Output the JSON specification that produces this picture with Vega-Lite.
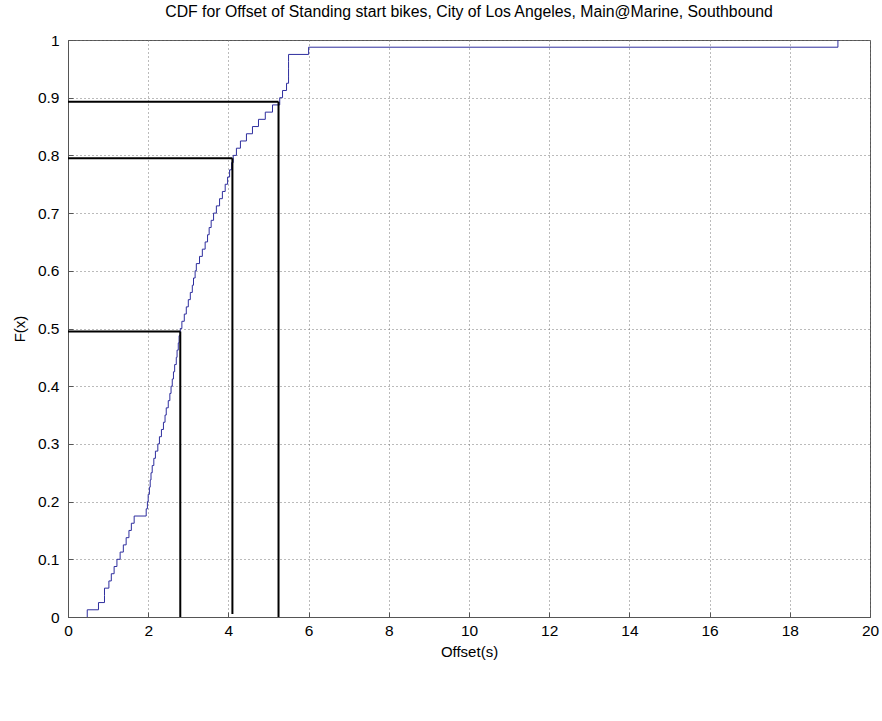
{
  "$schema": "https://vega.github.io/schema/vega-lite/v6.json",
  "width": 802,
  "height": 577,
  "autosize": {"type": "none"},
  "padding": {"left": 68, "top": 40, "right": 12, "bottom": 104},
  "background": "white",
  "title": {"text": "CDF for Offset of Standing start bikes, City of Los Angeles, Main@Marine, Southbound", "font": "Liberation Sans", "fontSize": 15.8, "fontWeight": "normal", "color": "black", "offset": 12},
  "config": {
    "view": {"stroke": "#555", "strokeWidth": 1},
    "axis": {"labelFont": "Liberation Sans", "titleFont": "Liberation Sans", "labelFontSize": 15.5, "titleFontSize": 15, "titleFontWeight": "normal", "labelColor": "black", "titleColor": "black", "domainColor": "#555", "tickColor": "#555", "gridColor": "#777", "gridDash": [1, 3], "gridOpacity": 1, "gridWidth": 1}
  },
  "datasets": {
    "cdf": [
      {"offset": 0.48, "F": 0},
      {"offset": 0.48, "F": 0.0125},
      {"offset": 0.76, "F": 0.025},
      {"offset": 0.91, "F": 0.0375},
      {"offset": 0.91, "F": 0.05},
      {"offset": 1.02, "F": 0.0625},
      {"offset": 1.08, "F": 0.075},
      {"offset": 1.15, "F": 0.0875},
      {"offset": 1.22, "F": 0.1},
      {"offset": 1.30, "F": 0.1125},
      {"offset": 1.38, "F": 0.125},
      {"offset": 1.45, "F": 0.1375},
      {"offset": 1.52, "F": 0.15},
      {"offset": 1.58, "F": 0.1625},
      {"offset": 1.65, "F": 0.175},
      {"offset": 1.95, "F": 0.1875},
      {"offset": 1.98, "F": 0.2},
      {"offset": 2.00, "F": 0.2125},
      {"offset": 2.03, "F": 0.225},
      {"offset": 2.05, "F": 0.2375},
      {"offset": 2.07, "F": 0.25},
      {"offset": 2.10, "F": 0.2625},
      {"offset": 2.14, "F": 0.275},
      {"offset": 2.18, "F": 0.2875},
      {"offset": 2.24, "F": 0.3},
      {"offset": 2.28, "F": 0.3125},
      {"offset": 2.33, "F": 0.325},
      {"offset": 2.38, "F": 0.3375},
      {"offset": 2.42, "F": 0.35},
      {"offset": 2.45, "F": 0.3625},
      {"offset": 2.50, "F": 0.375},
      {"offset": 2.54, "F": 0.3875},
      {"offset": 2.57, "F": 0.4},
      {"offset": 2.60, "F": 0.4125},
      {"offset": 2.63, "F": 0.425},
      {"offset": 2.66, "F": 0.4375},
      {"offset": 2.70, "F": 0.45},
      {"offset": 2.72, "F": 0.4625},
      {"offset": 2.75, "F": 0.475},
      {"offset": 2.77, "F": 0.4875},
      {"offset": 2.80, "F": 0.5},
      {"offset": 2.84, "F": 0.5125},
      {"offset": 2.90, "F": 0.525},
      {"offset": 2.95, "F": 0.5375},
      {"offset": 3.00, "F": 0.55},
      {"offset": 3.05, "F": 0.5625},
      {"offset": 3.10, "F": 0.575},
      {"offset": 3.13, "F": 0.5875},
      {"offset": 3.17, "F": 0.6},
      {"offset": 3.20, "F": 0.6125},
      {"offset": 3.28, "F": 0.625},
      {"offset": 3.35, "F": 0.6375},
      {"offset": 3.42, "F": 0.65},
      {"offset": 3.48, "F": 0.6625},
      {"offset": 3.52, "F": 0.675},
      {"offset": 3.57, "F": 0.6875},
      {"offset": 3.63, "F": 0.7},
      {"offset": 3.70, "F": 0.7125},
      {"offset": 3.78, "F": 0.725},
      {"offset": 3.85, "F": 0.7375},
      {"offset": 3.92, "F": 0.75},
      {"offset": 3.98, "F": 0.7625},
      {"offset": 4.03, "F": 0.775},
      {"offset": 4.08, "F": 0.7875},
      {"offset": 4.12, "F": 0.8},
      {"offset": 4.20, "F": 0.8125},
      {"offset": 4.30, "F": 0.825},
      {"offset": 4.45, "F": 0.8375},
      {"offset": 4.60, "F": 0.85},
      {"offset": 4.75, "F": 0.8625},
      {"offset": 4.92, "F": 0.875},
      {"offset": 5.10, "F": 0.8875},
      {"offset": 5.28, "F": 0.9},
      {"offset": 5.35, "F": 0.9125},
      {"offset": 5.45, "F": 0.925},
      {"offset": 5.50, "F": 0.9375},
      {"offset": 5.50, "F": 0.95},
      {"offset": 5.50, "F": 0.9625},
      {"offset": 5.50, "F": 0.975},
      {"offset": 6.00, "F": 0.9875},
      {"offset": 19.20, "F": 1.0}
    ],
    "marks": [
      {"x": 0, "x2": 2.8, "y": 0.495, "y2": 0.495},
      {"x": 2.8, "x2": 2.8, "y": 0, "y2": 0.495},
      {"x": 0, "x2": 4.1, "y": 0.795, "y2": 0.795},
      {"x": 4.1, "x2": 4.1, "y": 0.005, "y2": 0.795},
      {"x": 0, "x2": 5.25, "y": 0.893, "y2": 0.893},
      {"x": 5.25, "x2": 5.25, "y": 0, "y2": 0.893}
    ]
  },
  "layer": [
    {
      "data": {"name": "cdf"},
      "mark": {"type": "line", "interpolate": "step-after", "color": "#2e2e9e", "strokeWidth": 1},
      "encoding": {
        "x": {"field": "offset", "type": "quantitative", "scale": {"domain": [0, 20], "nice": false, "zero": false},
              "axis": {"title": "Offset(s)", "values": [0, 2, 4, 6, 8, 10, 12, 14, 16, 18, 20], "tickSize": -5, "labelPadding": 11, "titlePadding": 6, "labelFlush": false}},
        "y": {"field": "F", "type": "quantitative", "scale": {"domain": [0, 1], "nice": false},
              "axis": {"title": "F(x)", "values": [0, 0.1, 0.2, 0.3, 0.4, 0.5, 0.6, 0.7, 0.8, 0.9, 1], "format": "~g", "tickSize": -5, "labelPadding": 14, "titlePadding": 10, "labelFlush": false}}
      }
    },
    {
      "data": {"name": "marks"},
      "mark": {"type": "rule", "color": "black", "strokeWidth": 2},
      "encoding": {
        "x": {"field": "x", "type": "quantitative",
              "axis": {"title": "Offset(s)", "values": [0, 2, 4, 6, 8, 10, 12, 14, 16, 18, 20], "tickSize": -5, "labelPadding": 11, "titlePadding": 6, "labelFlush": false}},
        "x2": {"field": "x2"},
        "y": {"field": "y", "type": "quantitative",
              "axis": {"title": "F(x)", "values": [0, 0.1, 0.2, 0.3, 0.4, 0.5, 0.6, 0.7, 0.8, 0.9, 1], "format": "~g", "tickSize": -5, "labelPadding": 14, "titlePadding": 10, "labelFlush": false}},
        "y2": {"field": "y2"}
      }
    }
  ]
}
